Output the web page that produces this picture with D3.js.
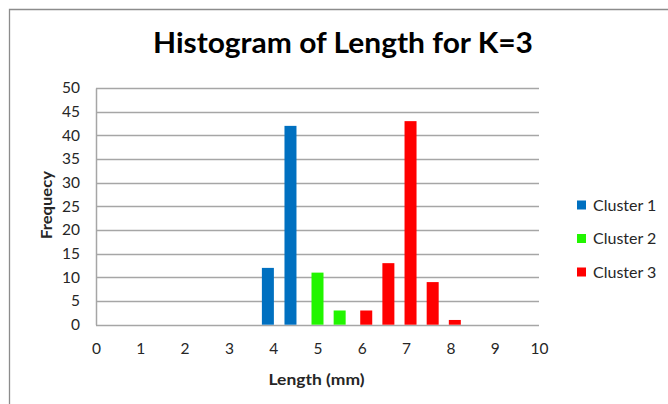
<!DOCTYPE html>
<html>
<head>
<meta charset="utf-8">
<script src="https://cdn.jsdelivr.net/npm/d3@7"></script>
<style>
  html, body { margin: 0; padding: 0; background: #fff; }
  svg { display: block; }
  text { font-family: Lato, "Open Sans", sans-serif; }
</style>
</head>
<body>
<svg id="chart" width="668" height="404"></svg>
<script>
// Histogram bins: bin position (mm), frequency, cluster id
const binLength = [3.88, 4.39, 5.0, 5.5, 6.1, 6.6, 7.1, 7.6, 8.1];
const binCount  = [12, 42, 11, 3, 3, 13, 43, 9, 1];
const binCluster = [0, 0, 1, 1, 2, 2, 2, 2, 2];
const clusterNames = ["Cluster 1", "Cluster 2", "Cluster 3"];
const clusterColors = ["#0070C0", "#22F500", "#FF0000"];
const xTicks = [0, 1, 2, 3, 4, 5, 6, 7, 8, 9, 10];
const yTicks = [0, 5, 10, 15, 20, 25, 30, 35, 40, 45, 50];

const svg = d3.select("#chart");

// Chart frame
svg.append("path")
  .attr("d", "M9.5,404 V9.5 H668")
  .attr("fill", "none")
  .attr("stroke", "#8c8c8c")
  .attr("stroke-width", 1.3);

const plot = { left: 96, right: 539, top: 88, bottom: 324.7 };

const x = d3.scaleLinear().domain([0, 10]).range([plot.left, plot.right]);
const y = d3.scaleLinear().domain([0, 50]).range([plot.bottom, plot.top]);

// Title
svg.append("text")
  .attr("x", 343).attr("y", 53)
  .attr("text-anchor", "middle")
  .attr("font-size", 28)
  .attr("font-weight", "bold")
  .attr("fill", "#000")
  .attr("textLength", 380)
  .attr("lengthAdjust", "spacingAndGlyphs")
  .text("Histogram of Length for K=3");

// Horizontal gridlines
svg.append("g")
  .selectAll("line")
  .data(yTicks)
  .join("line")
  .attr("x1", plot.left).attr("x2", plot.right)
  .attr("y1", d => Math.round(y(d)) + 0.5)
  .attr("y2", d => Math.round(y(d)) + 0.5)
  .attr("stroke", "#a6a6a6")
  .attr("stroke-width", 1.5);

// Y axis
const yAxis = svg.append("g")
  .attr("transform", `translate(${plot.left},0)`)
  .call(d3.axisLeft(y).tickValues(yTicks).tickSize(0).tickPadding(16));
yAxis.select(".domain").attr("stroke", "#a6a6a6").attr("stroke-width", 1.5);
yAxis.selectAll("text")
  .attr("font-size", 15.5)
  .attr("fill", "#262626")
  .attr("font-family", "Lato, sans-serif");

// X axis
const xAxis = svg.append("g")
  .attr("transform", `translate(0,${plot.bottom})`)
  .call(d3.axisBottom(x).tickValues(xTicks).tickSize(0).tickPadding(18));
xAxis.select(".domain").remove();
xAxis.selectAll("text")
  .attr("font-size", 15.5)
  .attr("fill", "#262626")
  .attr("font-family", "Lato, sans-serif");

// Bars
const barWidth = 12;
svg.append("g")
  .selectAll("rect")
  .data(binLength.map((v, i) => ({ len: v, count: binCount[i], c: binCluster[i] })))
  .join("rect")
  .attr("x", d => x(d.len) - barWidth / 2)
  .attr("y", d => y(d.count))
  .attr("width", barWidth)
  .attr("height", d => y(0) - y(d.count))
  .attr("fill", d => clusterColors[d.c]);

// Axis titles
svg.append("text")
  .attr("x", 316.5).attr("y", 385)
  .attr("text-anchor", "middle")
  .attr("font-size", 16)
  .attr("font-weight", "bold")
  .attr("fill", "#262626")
  .attr("textLength", 96)
  .attr("lengthAdjust", "spacingAndGlyphs")
  .text("Length (mm)");

svg.append("text")
  .attr("transform", "translate(52,205) rotate(-90)")
  .attr("text-anchor", "middle")
  .attr("font-size", 16)
  .attr("font-weight", "bold")
  .attr("fill", "#262626")
  .attr("textLength", 68)
  .attr("lengthAdjust", "spacingAndGlyphs")
  .text("Frequecy");

// Legend
const legend = svg.append("g")
  .selectAll("g")
  .data(clusterNames)
  .join("g")
  .attr("transform", (d, i) => `translate(577,${205 + i * 33.5})`);
legend.append("rect")
  .attr("x", 0).attr("y", -4.5)
  .attr("width", 9).attr("height", 9)
  .attr("fill", (d, i) => clusterColors[i]);
legend.append("text")
  .attr("x", 16).attr("y", 5.5)
  .attr("font-size", 16)
  .attr("fill", "#262626")
  .text(d => d);
</script>
</body>
</html>
